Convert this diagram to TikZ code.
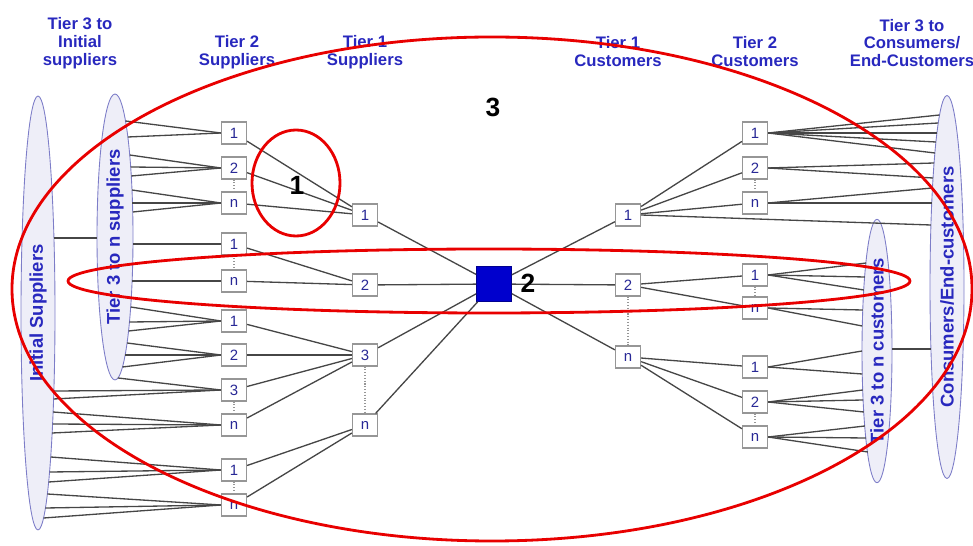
\documentclass[tikz,border=0pt]{standalone}
\usepackage{fontspec}
\setmainfont{Liberation Sans}
\usetikzlibrary{shapes.geometric}
\definecolor{hdr}{RGB}{40,40,190}
\definecolor{ellfill}{RGB}{238,238,248}
\definecolor{elldraw}{RGB}{125,125,200}
\definecolor{boxdraw}{RGB}{150,150,150}
\definecolor{boxtxt}{RGB}{40,40,150}
\definecolor{linkc}{RGB}{70,70,70}
\definecolor{hubc}{RGB}{0,0,205}
\definecolor{ringc}{RGB}{232,0,0}
\tikzset{
  hdr/.style={font=\fontsize{9.5}{10.2}\selectfont\bfseries,text=hdr,align=center},
  tierell/.style={ellipse,draw=elldraw,fill=ellfill,line width=0.5pt,inner sep=0pt,rotate=90,
    font=\fontsize{10.5}{12}\selectfont\bfseries,text=hdr},
  tbox/.style={draw=boxdraw,fill=white,line width=0.7pt,minimum width=0.5cm,minimum height=0.44cm,
    inner sep=0pt,font=\fontsize{8.5}{10}\selectfont,text=boxtxt},
  hub/.style={draw=hubc!70!black,fill=hubc,minimum size=0.7cm,inner sep=0pt},
  link/.style={linkc,line width=0.75pt},
  dotlink/.style={boxdraw,line width=0.6pt,densely dotted},
  ring/.style={ringc,line width=1.6pt},
  tag/.style={font=\fontsize{15}{16}\selectfont\bfseries,text=black},
}
% point on the right (#4=1) or left (#4=-1) rim of an ellipse centred at #2,#3
\newcommand{\rimpt}[7]{%
  \pgfmathsetmacro{\rx}{#2+#4*#5*sqrt(max(0,1-((#7-#3)/#6)^2))}%
  \coordinate (#1) at (\rx,#7);}

\begin{document}
\begin{tikzpicture}[x=0.02cm,y=-0.02cm]
\useasboundingbox (0,0) rectangle (973,546);
% ---- column headings ----
\node[hdr] (h1) at (80,43) {Tier 3 to\\Initial\\suppliers};
\node[hdr] (h2) at (237,52) {Tier 2\\Suppliers};
\node[hdr] (h3) at (365,52) {Tier 1\\Suppliers};
\node[hdr] (h4) at (618,52) {Tier 1\\Customers};
\node[hdr] (h5) at (755,52) {Tier 2\\Customers};
\node[hdr] (h6) at (912,43) {Tier 3 to\\Consumers/\\End-Customers};

% ---- grouping ellipses ----
\node[tierell,minimum width=8.68cm,minimum height=0.68cm] (ini) at (38,313) {Initial Suppliers};
\node[tierell,minimum width=5.72cm,minimum height=0.72cm] (t3s) at (115,237) {Tier 3 to n suppliers};
\node[tierell,minimum width=5.06cm,minimum height=0.60cm] (t3c) at (877,351) {Tier 3 to n customers};
\node[tierell,minimum width=7.66cm,minimum height=0.68cm] (con) at (947,287) {Consumers/End-customers};

% ---- boxes ----
\foreach \n/\t/\yy in {s2a/1/133,s2b/2/168,s2c/n/203,s2d/1/244,s2e/n/281,s2f/1/321,
    s2g/2/355,s2h/3/390,s2i/n/425,s2j/1/470,s2k/n/505}
  \node[tbox] (\n) at (234,\yy) {\t};
\foreach \n/\t/\yy in {s1a/1/215,s1b/2/285,s1c/3/355,s1d/n/425}
  \node[tbox] (\n) at (365,\yy) {\t};
\foreach \n/\t/\yy in {c1a/1/215,c1b/2/285,c1c/n/357}
  \node[tbox] (\n) at (628,\yy) {\t};
\foreach \n/\t/\yy in {c2a/1/133,c2b/2/168,c2c/n/203,c2d/1/275,c2e/n/308,
    c2f/1/367,c2g/2/402,c2h/n/437}
  \node[tbox] (\n) at (755,\yy) {\t};
\node[hub] (focal) at (494,284) {};

% ---- links between tiers ----
\foreach \a/\b in {s2a/s1a,s2b/s1a,s2c/s1a,s2d/s1b,s2e/s1b,s2f/s1c,s2g/s1c,s2h/s1c,s2i/s1c,
    s2j/s1d,s2k/s1d,s1a/focal,s1b/focal,s1c/focal,s1d/focal,focal/c1a,focal/c1b,focal/c1c,
    c1a/c2a,c1a/c2b,c1a/c2c,c1b/c2d,c1b/c2e,c1c/c2f,c1c/c2g,c1c/c2h}
  \draw[link] (\a) -- (\b);
\foreach \a/\b in {s2b/s2c,s2d/s2e,s2h/s2i,s2j/s2k,s1c/s1d,c1b/c1c,c2b/c2c,c2d/c2e,c2g/c2h}
  \draw[dotlink] (\a) -- (\b);

% fans out of the supplier ellipses
\foreach \b/\yy in {s2a/121,s2a/137,s2b/155,s2b/167,s2b/176,s2c/190,s2c/203,s2c/212,
    s2d/244,s2e/281,s2f/307,s2f/322,s2f/331,s2g/343,s2g/355,s2g/367,s2h/378}{
  \rimpt{e}{115}{237}{1}{18}{143}{\yy}
  \draw[link] (e) -- (\b.west);
}
\foreach \b/\yy in {s2h/391,s2h/399,s2i/412,s2i/424,s2i/433,s2j/457,s2j/472,s2j/482,
    s2k/494,s2k/508,s2k/518}{
  \rimpt{e}{38}{313}{1}{17}{217}{\yy}
  \draw[link] (e) -- (\b.west);
}
% fans into the customer ellipses
\foreach \b/\yy in {c2a/115,c2a/123,c2a/133,c2a/142,c2a/153,c2b/163,c2b/178,c2c/188,c2c/203,c1a/225}{
  \rimpt{e}{947}{287}{-1}{17}{192}{\yy}
  \draw[link] (\b.east) -- (e);
}
\foreach \b/\yy in {c2d/263,c2d/277,c2d/290,c2e/310,c2e/326,c2f/351,c2f/374,
    c2g/390,c2g/400,c2g/412,c2h/426,c2h/438,c2h/452}{
  \rimpt{e}{877}{351}{-1}{15}{127}{\yy}
  \draw[link] (\b.east) -- (e);
}
% ellipse to ellipse
\rimpt{iniR}{38}{313}{1}{17}{217}{238}
\rimpt{t3sL}{115}{237}{-1}{18}{143}{238}
\draw[link] (iniR) -- (t3sL);
\rimpt{t3cR}{877}{351}{1}{15}{127}{349}
\rimpt{conL}{947}{287}{-1}{17}{192}{349}
\draw[link] (t3cR) -- (conL);

% ---- scope rings ----
\draw[ring] (492,289) ellipse [x radius=480,y radius=252];
\draw[ring] (489,281) ellipse [x radius=421,y radius=32];
\draw[ring] (296,183) ellipse [x radius=44,y radius=53];
\node[tag] (r1) at (297,185) {1};
\node[tag] (r2) at (528,283) {2};
\node[tag] (r3) at (493,107) {3};
\end{tikzpicture}
\end{document}
